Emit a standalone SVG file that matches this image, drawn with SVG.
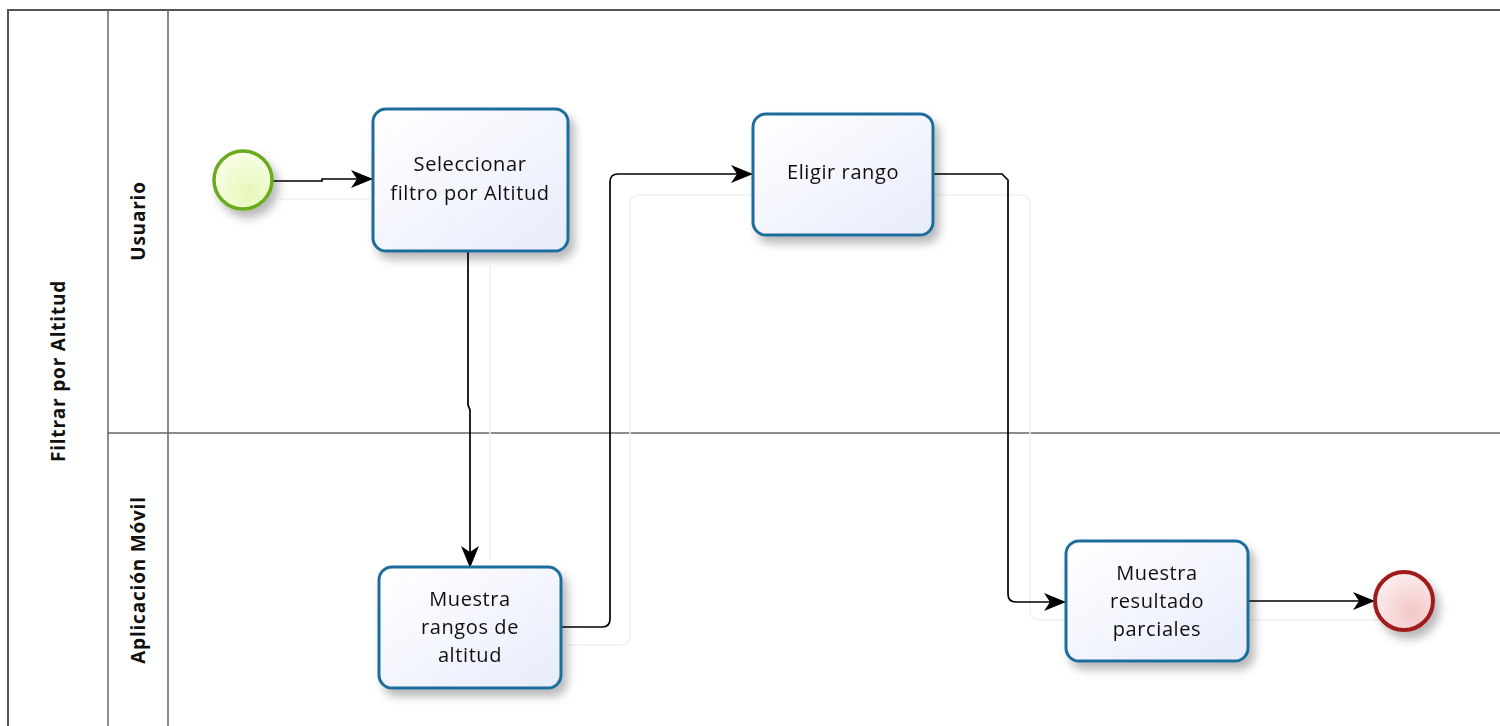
<svg xmlns="http://www.w3.org/2000/svg" width="1500" height="726" viewBox="0 0 1500 726">
  <defs>
    <style>
      .pool { fill: none; stroke: #555; stroke-width: 2; }
      .lane { fill: none; stroke: #666; stroke-width: 1.5; }
      .hdr { font-family: "Open Sans", "DejaVu Sans", sans-serif; font-weight: bold; font-size: 19px; letter-spacing: 0.8px; fill: #111; text-anchor: middle; }
      .task rect { fill: url(#taskFill); stroke: #1f6d9b; stroke-width: 3; }
      .label { font-family: "Open Sans", "DejaVu Sans", sans-serif; font-size: 20px; letter-spacing: 0.6px; fill: #111; text-anchor: middle; }
      .flow { fill: none; stroke: #000; stroke-width: 1.7; }
      .ghost { fill: none; stroke: #f1f1f1; stroke-width: 1.5; }
    </style>
    <linearGradient id="taskFill" x1="0" y1="0" x2="1" y2="1">
      <stop offset="0" stop-color="#ffffff"/>
      <stop offset="1" stop-color="#e7ecfa"/>
    </linearGradient>
    <radialGradient id="startFill" cx="0.6" cy="0.7" r="0.8">
      <stop offset="0" stop-color="#e6f7b8"/>
      <stop offset="1" stop-color="#fbfff0"/>
    </radialGradient>
    <radialGradient id="endFill" cx="0.65" cy="0.7" r="0.8">
      <stop offset="0" stop-color="#f2c6c6"/>
      <stop offset="1" stop-color="#fdf2f2"/>
    </radialGradient>
    <filter id="shadow" x="-20%" y="-20%" width="150%" height="150%">
      <feDropShadow dx="5" dy="7" stdDeviation="5" flood-color="#000" flood-opacity="0.28"/>
    </filter>
    <marker id="arrow" viewBox="0 0 22 18" refX="21" refY="9" markerWidth="22" markerHeight="18" markerUnits="userSpaceOnUse" orient="auto">
      <path d="M0,0 L22,9 L0,18 L6,9 Z" fill="#000"/>
    </marker>
  </defs>

  <rect x="0" y="0" width="1500" height="726" fill="#ffffff"/>

  <!-- pool and lanes -->
  <g id="pool">
    <path class="pool" d="M8,726 V10 H1500"/>
    <line class="lane" x1="108" y1="10" x2="108" y2="726"/>
    <line class="lane" x1="168" y1="10" x2="168" y2="726"/>
    <line class="lane" x1="108" y1="433" x2="1500" y2="433"/>
    <text class="hdr" transform="translate(65,371) rotate(-90)">Filtrar por Altitud</text>
    <text class="hdr" transform="translate(145,221) rotate(-90)">Usuario</text>
    <text class="hdr" transform="translate(145,580) rotate(-90)">Aplicación Móvil</text>
  </g>

  <!-- faint backdrop guides -->
  <g id="guides">
    <path class="ghost" d="M280,199 H370"/>
    <path class="ghost" d="M490,265 V560"/>
    <path class="ghost" d="M568,645 H620 Q630,645 630,635 V205 Q630,195 640,195 H753"/>
    <path class="ghost" d="M933,195 H1020 Q1030,195 1030,205 V610 Q1030,620 1040,620 H1066"/>
    <path class="ghost" d="M1248,620 H1380"/>
  </g>

  <!-- connectors -->
  <g id="connectors">
    <path class="flow" d="M273,181 H322 V179 H372" marker-end="url(#arrow)"/>
    <path class="flow" d="M468,251 V405 L470,410 V567" marker-end="url(#arrow)"/>
    <path class="flow" d="M561,627 H602 Q610,627 610,619 V182 Q610,174 618,174 H752" marker-end="url(#arrow)"/>
    <path class="flow" d="M933,174 H1002 L1008,180 V594 Q1008,602 1016,602 H1065" marker-end="url(#arrow)"/>
    <path class="flow" d="M1248,601 H1374" marker-end="url(#arrow)"/>
  </g>

  <!-- start event -->
  <g id="start" filter="url(#shadow)">
    <circle cx="243" cy="180" r="29" fill="url(#startFill)" stroke="#6aaa1e" stroke-width="3.5"/>
  </g>

  <!-- tasks -->
  <g id="task-seleccionar" class="task" filter="url(#shadow)">
    <rect x="373" y="109" width="195" height="142" rx="13"/>
    <text class="label" x="470" y="171">Seleccionar</text>
    <text class="label" x="470" y="200">filtro por Altitud</text>
  </g>

  <g id="task-eligir" class="task" filter="url(#shadow)">
    <rect x="753" y="114" width="180" height="121" rx="13"/>
    <text class="label" x="843" y="179">Eligir rango</text>
  </g>

  <g id="task-rangos" class="task" filter="url(#shadow)">
    <rect x="379" y="567" width="182" height="121" rx="13"/>
    <text class="label" x="470" y="606">Muestra</text>
    <text class="label" x="470" y="634">rangos de</text>
    <text class="label" x="470" y="662">altitud</text>
  </g>

  <g id="task-resultado" class="task" filter="url(#shadow)">
    <rect x="1066" y="541" width="182" height="120" rx="13"/>
    <text class="label" x="1157" y="580">Muestra</text>
    <text class="label" x="1157" y="608">resultado</text>
    <text class="label" x="1157" y="636">parciales</text>
  </g>

  <!-- end event -->
  <g id="end" filter="url(#shadow)">
    <circle cx="1404" cy="601" r="29" fill="url(#endFill)" stroke="#a01c1c" stroke-width="4"/>
  </g>
</svg>
